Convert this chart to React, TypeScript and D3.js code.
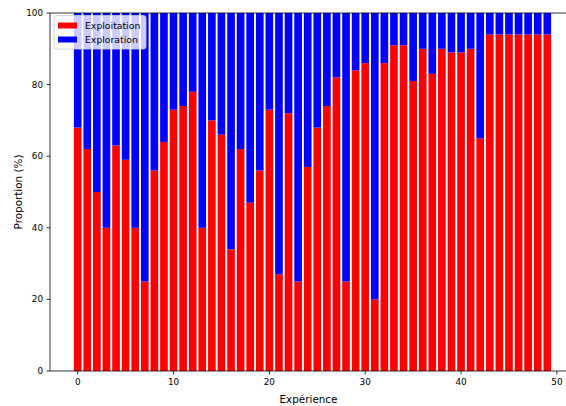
import React from "react";
import * as d3 from "d3";

const experiences: number[] = d3.range(50);
const exploitation: number[] = [
  68, 62, 50, 40, 63, 59, 40, 25, 56, 64,
  73, 74, 78, 40, 70, 66, 34, 62, 47, 56,
  73, 27, 72, 25, 57, 68, 74, 82, 25, 84,
  86, 20, 86, 91, 91, 81, 90, 83, 90, 89,
  89, 90, 65, 94, 94, 94, 94, 94, 94, 94,
];
const xTicks: number[] = [0, 10, 20, 30, 40, 50];
const yTicks: number[] = [0, 20, 40, 60, 80, 100];
const seriesNames: string[] = ["Exploitation", "Exploration"];
const seriesColors: string[] = ["#ff0000", "#0000ff"];

const W = 566;
const H = 406;
const left = 50;
const right = 575;
const top = 13;
const bottom = 371;
const barW = 0.8;
const font = "'DejaVu Sans', sans-serif";

export default function App() {
  const x = d3.scaleLinear().domain([-2.89, 51.89]).range([left, right]);
  const y = d3.scaleLinear().domain([0, 100]).range([bottom, top]);
  const bw = x(barW) - x(0);

  return (
    <svg width={W} height={H} style={{ position: "absolute", left: 0, top: 0, background: "#fff" }}>
      <g>
        {experiences.map((e, i) => (
          <g key={e}>
            <rect x={x(e - barW / 2)} y={y(exploitation[i])} width={bw} height={y(0) - y(exploitation[i])} fill={seriesColors[0]} />
            <rect x={x(e - barW / 2)} y={y(100)} width={bw} height={y(exploitation[i]) - y(100)} fill={seriesColors[1]} />
          </g>
        ))}
      </g>
      {/* spines */}
      <line x1={left} x2={left} y1={top} y2={bottom} stroke="#000" strokeWidth={0.8} />
      <line x1={left} x2={right} y1={bottom} y2={bottom} stroke="#000" strokeWidth={0.8} />
      <line x1={left} x2={right} y1={top} y2={top} stroke="#000" strokeWidth={0.8} />
      <line x1={right} x2={right} y1={top} y2={bottom} stroke="#000" strokeWidth={0.8} />
      {/* y ticks */}
      {yTicks.map((t) => (
        <g key={"y" + t}>
          <line x1={left - 3.5} x2={left} y1={y(t)} y2={y(t)} stroke="#000" strokeWidth={0.8} />
          <text x={left - 7} y={y(t)} dy="0.35em" textAnchor="end" fontSize={8.8} fontFamily={font} fill="#000">
            {t}
          </text>
        </g>
      ))}
      {/* x ticks */}
      {xTicks.map((t) => (
        <g key={"x" + t}>
          <line x1={x(t)} x2={x(t)} y1={bottom} y2={bottom + 3.5} stroke="#000" strokeWidth={0.8} />
          <text x={x(t)} y={bottom + 14} textAnchor="middle" fontSize={8.8} fontFamily={font} fill="#000">
            {t}
          </text>
        </g>
      ))}
      <text x={(left + right) / 2 - 4} y={403} textAnchor="middle" fontSize={10.4} fontFamily={font} fill="#000">
        Expérience
      </text>
      <text transform={`translate(22, ${(top + bottom) / 2}) rotate(-90)`} textAnchor="middle" fontSize={10.4} fontFamily={font} fill="#000">
        Proportion (%)
      </text>
      {/* legend */}
      <g>
        <rect x={54} y={15.5} width={92} height={33.5} rx={2.5} fill="#fff" fillOpacity={0.8} stroke="#ccc" strokeWidth={0.8} />
        {seriesNames.map((n, i) => (
          <g key={n}>
            <rect x={58} y={22.5 + i * 14} width={19} height={6} fill={seriesColors[i]} />
            <text x={85} y={25.5 + i * 14} dy="0.35em" fontSize={9.3} fontFamily={font} fill="#000">
              {n}
            </text>
          </g>
        ))}
      </g>
    </svg>
  );
}
